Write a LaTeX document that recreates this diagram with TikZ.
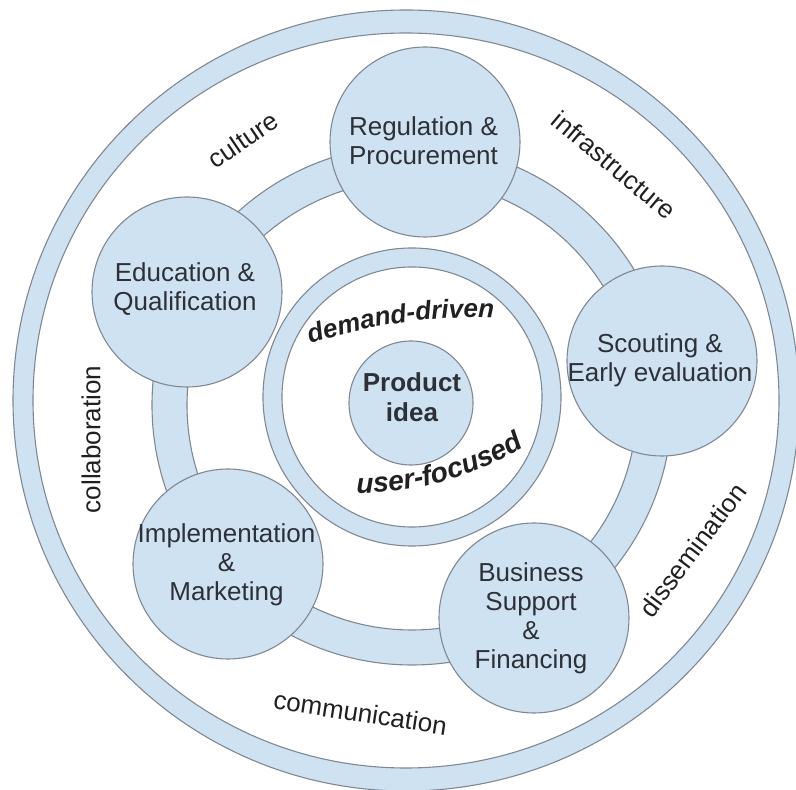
\documentclass[tikz,border=0pt]{standalone}
\usepackage{fontspec}
\setmainfont{Liberation Sans}
\usetikzlibrary{decorations.text,calc}
\definecolor{ringfill}{RGB}{207,226,242}
\definecolor{edgecol}{RGB}{128,136,146}
\definecolor{txtcol}{RGB}{45,48,56}
\definecolor{lblcol}{RGB}{32,32,34}
\newcommand{\demandfont}{\fontsize{26}{26}\selectfont\bfseries\itshape}
\newcommand{\userfont}{\fontsize{28}{28}\selectfont\bfseries\itshape}
\begin{document}
\begin{tikzpicture}[x=1pt,y=1pt,
  ringline/.style={draw=edgecol, line width=1.1pt},
  satc/.style={circle, draw=edgecol, line width=1.1pt, fill=ringfill, minimum size=190pt, inner sep=0pt},
  prodc/.style={circle, draw=edgecol, line width=1.1pt, fill=ringfill, minimum size=124pt, inner sep=0pt},
  sattext/.style={align=center, text=txtcol, font=\fontsize{26}{29}\selectfont, inner sep=0pt},
  prodtext/.style={align=center, text=txtcol, font=\fontsize{26}{30}\selectfont\bfseries, inner sep=0pt},
  lbl/.style={text=lblcol, font=\fontsize{26}{29}\selectfont, inner sep=0pt}]
\useasboundingbox (0,0) rectangle (796,790);
\coordinate (OC) at (406,389.5);
\coordinate (MC) at (412,385);
\coordinate (IC) at (412,393);
\coordinate (DC) at (474.6,-56.7);
\coordinate (UC) at (358.4,615.5);
% outer ring
\path[fill=ringfill, even odd rule] (OC) ellipse [x radius=393, y radius=390.5] (OC) ellipse [x radius=373, y radius=367.5];
\draw[ringline] (OC) ellipse [x radius=393, y radius=390.5];
\draw[ringline] (OC) ellipse [x radius=373, y radius=367.5];
% middle ring
\path[fill=ringfill, even odd rule] (MC) circle [radius=260] (MC) circle [radius=225];
\draw[ringline] (MC) circle [radius=260];
\draw[ringline] (MC) circle [radius=225];
% inner ring
\path[fill=ringfill, even odd rule] (IC) circle [radius=149] (IC) circle [radius=130];
\draw[ringline] (IC) circle [radius=149];
\draw[ringline] (IC) circle [radius=130];
% product idea
\node[prodc] (prod) at (411,387) {};
\node[prodtext] (prodt) at (412,392.5) {Product\\idea};
% satellites
\node[satc] (reg) at (425,648) {};
\node[satc] (edu) at (187,498) {};
\node[satc] (sco) at (662,429) {};
\node[satc] (imp) at (228,226) {};
\node[satc] (bus) at (534,172) {};
\node[sattext] (regt) at (423.5,649.5) {Regulation \&\\Procurement};
\node[sattext] (edut) at (185,500.5) {Education \&\\Qualification};
\node[sattext] (scot) at (660,429.3) {Scouting \&\\Early evaluation};
\node[sattext] (impt) at (226.5,225) {Implementation\\\&\\Marketing};
\node[sattext] (bust) at (531,172) {Business\\Support\\\&\\Financing};
% outer labels
\node[lbl, rotate=34] (cult) at (243,650) {culture};
\node[lbl, rotate=-40] (infra) at (614,625) {infrastructure};
\node[lbl, rotate=90] (coll) at (91,350.5) {collaboration};
\node[lbl, rotate=53] (diss) at (692.5,240) {dissemination};
\node[lbl, rotate=-8.7, anchor=base] (comm) at (359,68) {communication};
% curved inner labels
\path[decorate, decoration={text along path, text={|\demandfont|demand-driven}, text align=center, text color=lblcol}]
  ($(DC)+(117:529)$) arc [start angle=117, end angle=79, radius=529];
\path[decorate, decoration={text along path, text={|\userfont|user-focused}, text align=center, text color=lblcol}]
  ($(UC)+(-94:318.5)$) arc [start angle=-94, end angle=-55, radius=318.5];
\end{tikzpicture}
\end{document}
